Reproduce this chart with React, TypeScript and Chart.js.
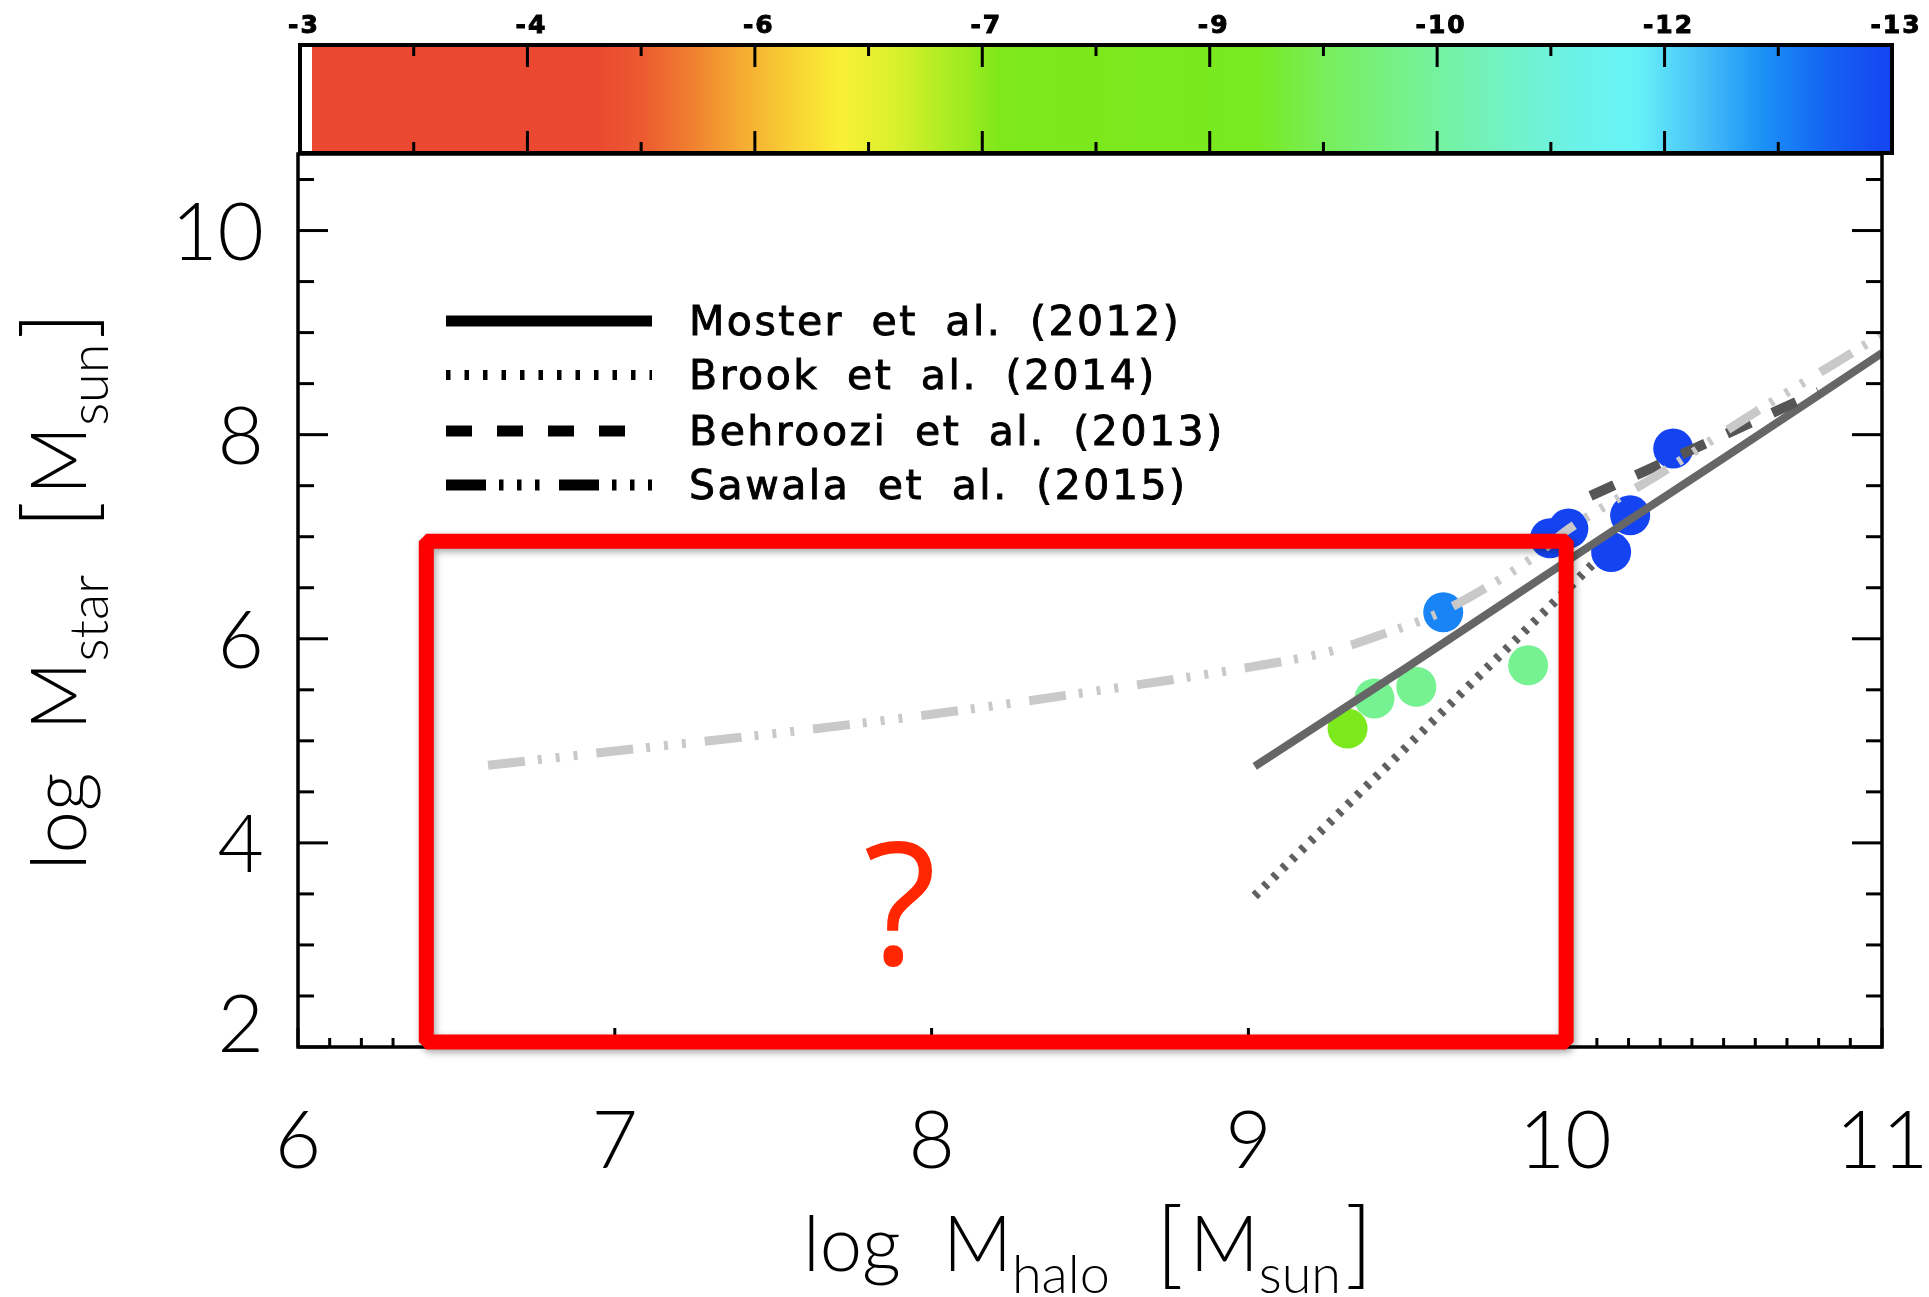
import React, { useEffect, useRef } from "react";
import { Chart, registerables } from "chart.js";

Chart.register(...registerables);

const CANVAS_W = 1929;
const CANVAS_H = 1297;

// ---------------- axes ----------------
const xMin = 6;
const xMax = 11;
const yMin = 2;
const yMax = 10.75;
const xTickValues = [6, 7, 8, 9, 10, 11];
const xTickLabels = ["6", "7", "8", "9", "10", "11"];
const yTickValues = [2, 4, 6, 8, 10];
const yTickLabels = ["2", "4", "6", "8", "10"];
const xMinorStep = 0.1;
const yMinorStep = 0.5;

// ---------------- relations (log Mhalo -> log Mstar) ----------------
const mosterHalo = [9.02, 9.5, 10.0, 10.5, 11.0];
const mosterStar = [4.75, 5.72, 6.75, 7.77, 8.8];

const brookHalo = [9.02, 10.1];
const brookStar = [3.48, 6.77];

const behrooziHalo = [10.08, 10.8];
const behrooziStar = [7.4, 8.42];

const sawalaHalo = [6.6, 7.0, 7.5, 8.0, 8.5, 9.0, 9.25, 9.4, 9.6, 9.75, 9.9, 10.0, 10.3, 10.6, 11.0];
const sawalaStar = [4.76, 4.9, 5.07, 5.26, 5.48, 5.72, 5.87, 6.02, 6.25, 6.5, 6.8, 7.05, 7.62, 8.22, 8.98];

// ---------------- simulated galaxies ----------------
const galaxyHalo = [9.313, 9.398, 9.53, 9.883, 9.615, 9.952, 10.01, 10.145, 10.205, 10.341];
const galaxyStar = [5.12, 5.415, 5.53, 5.74, 6.26, 6.985, 7.08, 6.85, 7.21, 7.864];
const galaxyColorValue = [-8.0, -10.0, -10.0, -10.0, -12.3, -13, -13, -13, -13, -13];

// ---------------- colour bar ----------------
const colorbarLabels = ["-3", "-4", "-6", "-7", "-9", "-10", "-12", "-13"];
const colorbarMin = -3;
const colorbarMax = -13;
const colormapPositions = [0.0, 0.185, 0.215, 0.245, 0.275, 0.31, 0.34, 0.375, 0.41, 0.44, 0.6, 0.645, 0.7, 0.75, 0.8, 0.84, 0.88, 0.92, 0.96, 1.0];
const colormapColors = [
  "#EA4830", "#EA4830", "#EC5A30", "#F07E30", "#F5A832", "#F8D234", "#FAF036", "#D8F02C",
  "#A8EC22", "#7EE81A", "#78EA20", "#78EE5C", "#76F292", "#72F2BE", "#6CF2E6", "#66F2F8",
  "#48C0F8", "#1A90F6", "#1462F2", "#1444F2",
];

// ---------------- legend ----------------
const legendLabels = ["Moster et al. (2012)", "Brook et al. (2014)", "Behroozi et al. (2013)", "Sawala et al. (2015)"];

// ---------------- annotation (data units) ----------------
const unknownBoxHalo = [6.405, 10.003];
const unknownBoxStar = [2.05, 6.956];
const questionHalo = 7.9;
const questionStar = 2.8;

function hexToRgb(h: string) {
  const n = parseInt(h.slice(1), 16);
  return [(n >> 16) & 255, (n >> 8) & 255, n & 255];
}

function colormap(f: number) {
  const t0 = Math.max(0, Math.min(1, f));
  for (let i = 1; i < colormapPositions.length; i++) {
    if (t0 <= colormapPositions[i]) {
      const a = colormapPositions[i - 1];
      const b = colormapPositions[i];
      const t = b > a ? (t0 - a) / (b - a) : 0;
      const c1 = hexToRgb(colormapColors[i - 1]);
      const c2 = hexToRgb(colormapColors[i]);
      const c = c1.map((v, k) => Math.round(v + (c2[k] - v) * t));
      return `rgb(${c[0]},${c[1]},${c[2]})`;
    }
  }
  return colormapColors[colormapColors.length - 1];
}

function valueToColor(v: number) {
  return colormap((v - colorbarMin) / (colorbarMax - colorbarMin));
}

const xy = (xs: number[], ys: number[]) => xs.map((x, i) => ({ x, y: ys[i] }));

type Part = { text: string; font: string; dy: number; gap: number };

const MAIN = '300 76px Lato, "DejaVu Sans", sans-serif';
const SUB = '300 54px Lato, "DejaVu Sans", sans-serif';
const BRACKET = '300 94px Lato, "DejaVu Sans", sans-serif';

function titleParts(sub1: string): Part[] {
  return [
    { text: "log", font: MAIN, dy: 0, gap: 42 },
    { text: "M", font: MAIN, dy: 0, gap: 0 },
    { text: sub1, font: SUB, dy: 22, gap: 46 },
    { text: "[", font: BRACKET, dy: 5, gap: 6 },
    { text: "M", font: MAIN, dy: 0, gap: 0 },
    { text: "sun", font: SUB, dy: 22, gap: 4 },
    { text: "]", font: BRACKET, dy: 5, gap: 0 },
  ];
}

function drawParts(ctx: CanvasRenderingContext2D, parts: Part[], cx: number, baseline: number) {
  let total = 0;
  const widths = parts.map((p) => {
    ctx.font = p.font;
    const w = ctx.measureText(p.text).width;
    total += w + p.gap;
    return w;
  });
  let x = cx - total / 2;
  ctx.textAlign = "left";
  ctx.textBaseline = "alphabetic";
  parts.forEach((p, i) => {
    ctx.font = p.font;
    ctx.fillText(p.text, x, baseline + p.dy);
    x += widths[i] + p.gap;
  });
}

function seg(ctx: CanvasRenderingContext2D, x1: number, y1: number, x2: number, y2: number) {
  ctx.beginPath();
  ctx.moveTo(x1, y1);
  ctx.lineTo(x2, y2);
  ctx.stroke();
}

const decorPlugin = {
  id: "decor",
  afterDraw(chart: any) {
    const ctx = chart.ctx as CanvasRenderingContext2D;
    const xs = chart.scales.x;
    const ys = chart.scales.y;
    const ca = chart.chartArea;
    const px = (v: number) => xs.getPixelForValue(v);
    const py = (v: number) => ys.getPixelForValue(v);
    ctx.save();

    // ---- frame ----
    ctx.strokeStyle = "#000";
    ctx.lineWidth = 3.5;
    ctx.lineJoin = "miter";
    ctx.strokeRect(ca.left, ca.top, ca.right - ca.left, ca.bottom - ca.top);

    // ---- y ticks (left + right) ----
    ctx.lineWidth = 3;
    ctx.lineCap = "butt";
    const nY = Math.round((yMax - yMin) / yMinorStep);
    for (let i = 0; i <= nY; i++) {
      const v = yMin + i * yMinorStep;
      if (v > yMax) break;
      const major = yTickValues.some((t) => Math.abs(t - v) < 1e-6);
      const len = major ? 30 : 16;
      const y = py(v);
      seg(ctx, ca.left, y, ca.left + len, y);
      seg(ctx, ca.right, y, ca.right - len, y);
    }
    // ---- x ticks (bottom) ----
    const nX = Math.round((xMax - xMin) / xMinorStep);
    for (let i = 0; i <= nX; i++) {
      const v = xMin + i * xMinorStep;
      const major = xTickValues.some((t) => Math.abs(t - v) < 1e-6);
      const len = major ? 19 : 9;
      const x = px(v);
      seg(ctx, x, ca.bottom, x, ca.bottom - len);
    }

    // ---- tick labels ----
    ctx.fillStyle = "#000";
    ctx.font = '300 80px Lato, "DejaVu Sans", sans-serif';
    ctx.textAlign = "center";
    ctx.textBaseline = "alphabetic";
    xTickValues.forEach((v, i) => ctx.fillText(xTickLabels[i], px(v), ca.bottom + 121));
    ctx.textAlign = "right";
    yTickValues.forEach((v, i) => {
      const lift = v === yMin ? 24 : 0;
      ctx.fillText(yTickLabels[i], ca.left - 34, py(v) + 29 - lift);
    });

    // ---- axis titles ----
    drawParts(ctx, titleParts("halo"), 1088, 1271);
    ctx.save();
    ctx.translate(86, 591);
    ctx.rotate(-Math.PI / 2);
    drawParts(ctx, titleParts("star"), 0, 0);
    ctx.restore();

    // ---- colour bar ----
    const cb = { left: 300, right: 1892, top: 45, bottom: 153 };
    const grad = ctx.createLinearGradient(cb.left, 0, cb.right, 0);
    colormapPositions.forEach((p, i) => grad.addColorStop(p, colormapColors[i]));
    ctx.fillStyle = "#fff";
    ctx.fillRect(cb.left, cb.top, cb.right - cb.left, cb.bottom - cb.top);
    ctx.fillStyle = grad;
    ctx.fillRect(cb.left + 12, cb.top, cb.right - cb.left - 12, cb.bottom - cb.top);
    ctx.strokeStyle = "#000";
    ctx.lineWidth = 4;
    ctx.strokeRect(cb.left, cb.top, cb.right - cb.left, cb.bottom - cb.top);
    const nCb = (colorbarLabels.length - 1) * 2;
    ctx.lineWidth = 3;
    for (let i = 0; i <= nCb; i++) {
      const x = cb.left + (i / nCb) * (cb.right - cb.left);
      const len = i % 2 === 0 ? 22 : 11;
      seg(ctx, x, cb.top, x, cb.top + len);
      seg(ctx, x, cb.bottom, x, cb.bottom - len);
    }
    ctx.fillStyle = "#000";
    ctx.strokeStyle = "#000";
    ctx.font = 'bold 25px "DejaVu Sans", sans-serif';
    (ctx as any).letterSpacing = "2px";
    ctx.textAlign = "center";
    ctx.textBaseline = "alphabetic";
    ctx.lineWidth = 1;
    colorbarLabels.forEach((lab, i) => {
      const x = cb.left + (i / (colorbarLabels.length - 1)) * (cb.right - cb.left);
      ctx.fillText(lab, x + 4, 33);
      ctx.strokeText(lab, x + 4, 33);
    });
    (ctx as any).letterSpacing = "0px";

    // ---- legend ----
    const legendStyles = [
      { dash: [] as number[], width: 11, end: 652 },
      { dash: [4.5, 14], width: 10, end: 652 },
      { dash: [26, 25], width: 11, end: 625 },
      { dash: [40, 13, 4.5, 13.5, 4.5, 13.5, 4.5, 19.5], width: 11, end: 652 },
    ];
    const legendRows = [321, 375, 431, 485];
    legendLabels.forEach((lab, i) => {
      const st = legendStyles[i];
      ctx.strokeStyle = "#000";
      ctx.lineWidth = st.width;
      ctx.lineCap = "butt";
      ctx.setLineDash(st.dash);
      seg(ctx, 446, legendRows[i], st.end, legendRows[i]);
      ctx.setLineDash([]);
      ctx.fillStyle = "#000";
      ctx.font = '41px "DejaVu Sans", sans-serif';
      (ctx as any).letterSpacing = "2.5px";
      (ctx as any).wordSpacing = "12px";
      ctx.textAlign = "left";
      ctx.fillText(lab, 689, legendRows[i] + 14);
      ctx.lineWidth = 0.9;
      ctx.strokeText(lab, 689, legendRows[i] + 14);
      (ctx as any).letterSpacing = "0px";
      (ctx as any).wordSpacing = "0px";
    });

    // ---- red "unknown" box ----
    ctx.save();
    ctx.shadowColor = "rgba(0,0,0,0.35)";
    ctx.shadowBlur = 7;
    ctx.shadowOffsetX = 2;
    ctx.shadowOffsetY = 3;
    ctx.strokeStyle = "#FF0000";
    ctx.lineWidth = 15;
    ctx.lineJoin = "bevel";
    const bx1 = px(unknownBoxHalo[0]);
    const bx2 = px(unknownBoxHalo[1]);
    const by1 = py(unknownBoxStar[1]);
    const by2 = py(unknownBoxStar[0]);
    ctx.strokeRect(bx1, by1, bx2 - bx1, by2 - by1);
    ctx.restore();

    ctx.fillStyle = "#FF2600";
    ctx.font = '500 170px "Open Sans", "Noto Sans", sans-serif';
    ctx.textAlign = "center";
    ctx.textBaseline = "alphabetic";
    ctx.fillText("?", px(questionHalo), py(questionStar));

    ctx.restore();
  },
};

export default function App() {
  const ref = useRef<HTMLCanvasElement>(null);
  useEffect(() => {
    const canvas = ref.current;
    if (!canvas) return;
    const chart = new Chart(canvas, {
      type: "scatter",
      data: {
        datasets: [
          {
            label: legendLabels[3],
            data: xy(sawalaHalo, sawalaStar),
            showLine: true,
            borderColor: "#c9c9c9",
            borderWidth: 9,
            borderDash: [37, 13, 4, 14, 4, 14, 4, 19],
            borderCapStyle: "butt",
            cubicInterpolationMode: "monotone",
            pointRadius: 0,
            order: 1,
          },
          {
            label: legendLabels[2],
            data: xy(behrooziHalo, behrooziStar),
            showLine: true,
            borderColor: "#555555",
            borderWidth: 10,
            borderDash: [26, 24],
            borderCapStyle: "butt",
            pointRadius: 0,
            order: 2,
          },
          {
            label: legendLabels[0],
            data: xy(mosterHalo, mosterStar),
            showLine: true,
            borderColor: "#666666",
            borderWidth: 8,
            borderCapStyle: "butt",
            cubicInterpolationMode: "monotone",
            pointRadius: 0,
            order: 3,
          },
          {
            label: legendLabels[1],
            data: xy(brookHalo, brookStar),
            showLine: true,
            borderColor: "#606060",
            borderWidth: 9,
            borderDash: [4.5, 8.5],
            borderCapStyle: "butt",
            pointRadius: 0,
            order: 4,
          },
          {
            label: "Simulated dwarfs",
            data: xy(galaxyHalo, galaxyStar),
            showLine: false,
            pointRadius: 20,
            pointBorderWidth: 0,
            pointBackgroundColor: galaxyColorValue.map(valueToColor),
            pointBorderColor: galaxyColorValue.map(valueToColor),
            order: 10,
          },
        ] as any,
      },
      options: {
        responsive: false,
        animation: false,
        devicePixelRatio: 1,
        events: [],
        layout: { padding: { left: 298, right: CANVAS_W - 1882, top: 154, bottom: CANVAS_H - 1047 } },
        plugins: {
          legend: { display: false },
          tooltip: { enabled: false },
          title: { display: false },
        },
        scales: {
          x: { type: "linear", min: xMin, max: xMax, display: false },
          y: { type: "linear", min: yMin, max: yMax, display: false },
        },
      } as any,
      plugins: [decorPlugin],
    });
    return () => chart.destroy();
  }, []);

  return (
    <div style={{ position: "fixed", left: 0, top: 0, width: CANVAS_W, height: CANVAS_H, background: "#fff" }}>
      <canvas ref={ref} width={CANVAS_W} height={CANVAS_H} style={{ display: "block", width: CANVAS_W, height: CANVAS_H }} />
    </div>
  );
}
